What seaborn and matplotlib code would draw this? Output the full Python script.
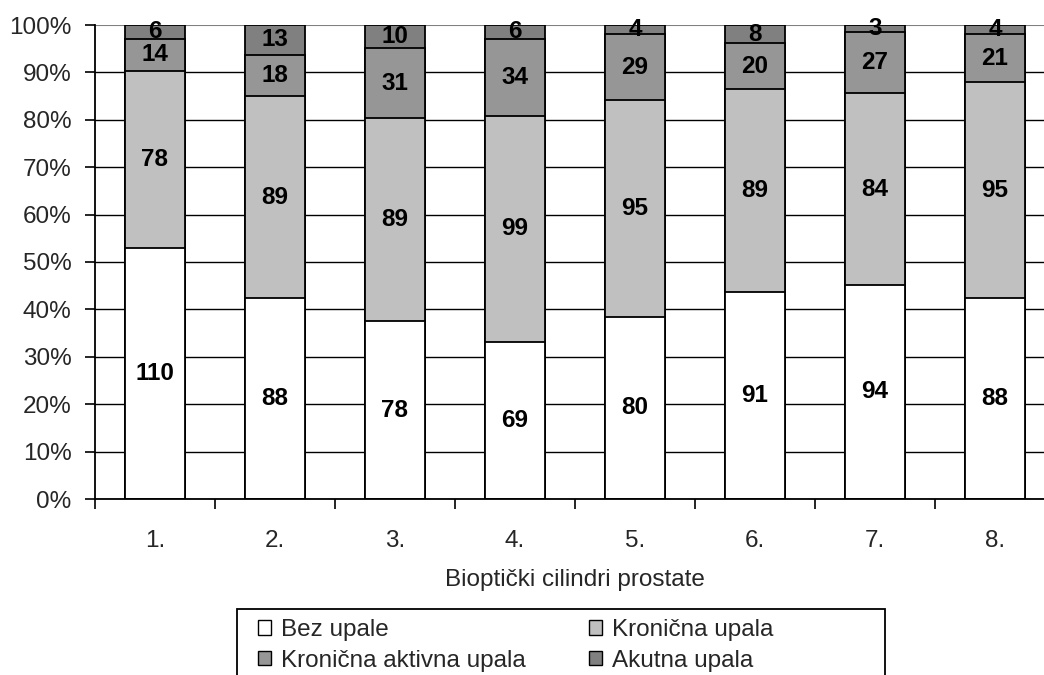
import numpy as np
import pandas as pd
import matplotlib
matplotlib.use("Agg")
import matplotlib.pyplot as plt
import seaborn as sns
from matplotlib.patches import Patch, Rectangle

# data
cilindri = ["1.", "2.", "3.", "4.", "5.", "6.", "7.", "8."]
bez_upale = [110, 88, 78, 69, 80, 91, 94, 88]
kronicna = [78, 89, 89, 99, 95, 89, 84, 95]
kronicna_aktivna = [14, 18, 31, 34, 29, 20, 27, 21]
akutna = [6, 13, 10, 6, 4, 8, 3, 4]

serije = ["Bez upale", "Kronična upala", "Kronična aktivna upala", "Akutna upala"]
boje = ["#FFFFFF", "#C0C0C0", "#969696", "#808080"]

df = pd.DataFrame({
    "Bez upale": bez_upale,
    "Kronična upala": kronicna,
    "Kronična aktivna upala": kronicna_aktivna,
    "Akutna upala": akutna,
}, index=cilindri)
pct = df.div(df.sum(axis=1), axis=0) * 100
cum = pct.cumsum(axis=1)

sns.set_style("white")
plt.rcParams["font.family"] = ["Liberation Sans", "DejaVu Sans"]
FS = 17.5

fig = plt.figure(figsize=(10.44, 6.75), dpi=100)
ax = fig.add_axes([95 / 1044, 1 - 499 / 675, (1055 - 95) / 1044, (499 - 25) / 675])

# draw cumulative bars, tallest first, so each layer covers the one above
for name, col in reversed(list(zip(serije, boje))):
    sns.barplot(x=cilindri, y=cum[name].values, color=col, saturation=1,
                width=0.5, edgecolor="black", linewidth=1.3, errorbar=None, ax=ax)

# value labels in the middle of each segment
for i, c in enumerate(cilindri):
    for name in serije:
        h = pct.loc[c, name]
        mid = cum.loc[c, name] - h / 2
        ax.text(i, mid, str(df.loc[c, name]), ha="center", va="center",
                fontsize=FS, fontweight="bold", color="black")

ax.set_ylim(0, 100)
ax.set_yticks(np.arange(0, 101, 10))
ax.set_yticklabels([f"{v}%" for v in range(0, 101, 10)], fontsize=FS)
ax.set_axisbelow(True)
ax.yaxis.grid(True, color="black", linewidth=1)
ax.get_ygridlines()[-1].set_color("#808080")
ax.get_ygridlines()[-1].set_linewidth(1.5)

ax.set_xlim(-0.5, 7.5)
ax.set_xticks(np.arange(-0.5, 8, 1))
ax.set_xticklabels([])
ax.set_xticks(np.arange(8), minor=True)
ax.set_xticklabels(cilindri, minor=True, fontsize=FS)
ax.tick_params(axis="x", which="major", direction="out", length=7, width=1.2, color="black")
ax.tick_params(axis="x", which="minor", length=0, pad=22)
ax.tick_params(axis="y", direction="out", length=7, width=1.2, color="black", pad=10)
ax.xaxis.set_ticks_position("bottom")
ax.yaxis.set_ticks_position("left")

ax.set_xlabel("Bioptički cilindri prostate", fontsize=FS)
ax.xaxis.set_label_coords((575 - 95) / (1055 - 95), -(569 - 499) / (499 - 25))
ax.set_ylabel("")

for s in ["top", "right"]:
    ax.spines[s].set_visible(False)
for s in ["left", "bottom"]:
    ax.spines[s].set_color("black")
    ax.spines[s].set_linewidth(1.3)

# legend, filled row by row, framed by a box that runs off the bottom of the image
handles = [Patch(facecolor=c, edgecolor="black", linewidth=1) for c in boje]
red = [0, 2, 1, 3]
fig.legend([handles[k] for k in red], [serije[k] for k in red], ncol=2, frameon=False,
           fontsize=FS, loc="upper left", bbox_to_anchor=(258 / 1044, 1 - 619 / 675),
           borderaxespad=0, handlelength=0.55, handleheight=0.55, handletextpad=0.4,
           columnspacing=2.6, labelspacing=0.35, borderpad=0.0)
fig.add_artist(Rectangle((237 / 1044, 1 - 700 / 675), (885 - 237) / 1044, (700 - 609) / 675,
                         transform=fig.transFigure, fill=False, edgecolor="black", linewidth=1.3))

fig.savefig("out.png", dpi=100)
